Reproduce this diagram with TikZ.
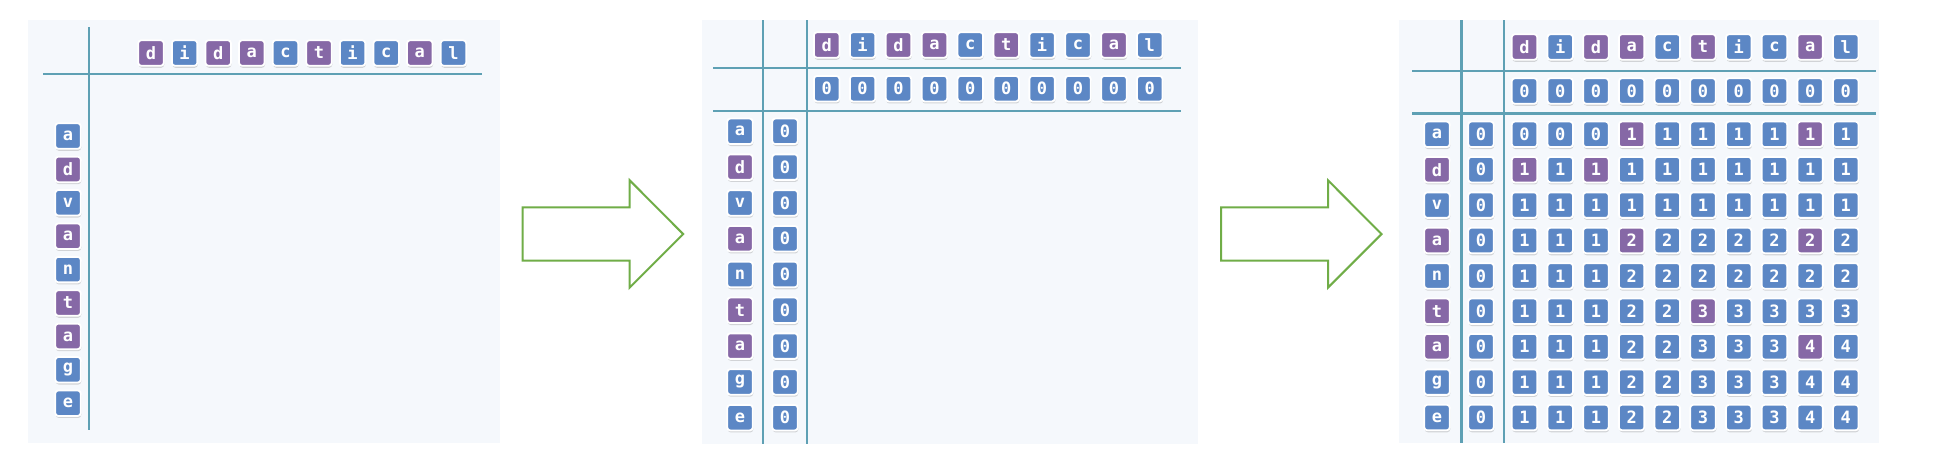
\documentclass[tikz,border=0pt]{standalone}
\usepackage{fontspec}
\setmonofont{DejaVu Sans Mono}
\usetikzlibrary{shadows}
\definecolor{blu}{RGB}{92,135,197}
\definecolor{pur}{RGB}{134,104,166}
\definecolor{gridteal}{RGB}{94,160,180}
\definecolor{panelbg}{RGB}{245,248,252}
\definecolor{arrowgreen}{RGB}{112,173,71}
\newcommand\topword{d/pur,i/blu,d/pur,a/pur,c/blu,t/pur,i/blu,c/blu,a/pur,l/blu}
\newcommand\sideword{a/blu,d/pur,v/blu,a/pur,n/blu,t/pur,a/pur,g/blu,e/blu}

\begin{document}
\begin{tikzpicture}[x=1pt, y=-1pt,
    tile/.style={draw=white, line width=1.8pt, rounded corners=3pt, minimum size=25.5pt,
        inner sep=0pt, text=white, font={\ttfamily\bfseries\fontsize{17}{17}\selectfont},
        drop shadow={opacity=0.3, shadow xshift=0.5pt, shadow yshift=-2pt}},
    rule/.style={gridteal, line width=2.4pt},
    bigarrow/.style={arrowgreen, line width=2pt}]
    \path[use as bounding box, fill=white] (0,0) rectangle (1936,474);

    \fill[panelbg] (28,20) rectangle (500,443);
    \draw[rule] (89,27) -- (89,430);
    \draw[rule] (43,74) -- (482,74);
    \foreach \ch/\cl [count=\i] in \topword
        \node[tile, fill=\cl] (top1-\i) at ({151+33.6*(\i-1)},53) {\ch};
    \foreach \ch/\cl [count=\j] in \sideword
        \node[tile, fill=\cl] (side1-\j) at (68,{136+33.4*(\j-1)}) {\ch};

    \foreach \ax in {522.7,1221}
        \draw[bigarrow] (\ax,207.3) -- ++(107,0) -- ++(0,-27) -- ++(53.5,53.8)
            -- ++(-53.5,53.5) -- ++(0,-27) -- ++(-107,0) -- cycle;

    \fill[panelbg] (702,20) rectangle (1198,444);
    \draw[rule] (763,20) -- (763,444);
    \draw[rule] (807,20) -- (807,444);
    \draw[rule] (713,68) -- (1181,68);
    \draw[rule] (713,111) -- (1181,111);
    \foreach \ch/\cl [count=\i] in \topword {
        \node[tile, fill=\cl] (top2-\i) at ({826.7+35.9*(\i-1)},45) {\ch};
        \node[tile, fill=blu] (zero2-\i) at ({826.7+35.9*(\i-1)},88.7) {0};
    }
    \foreach \ch/\cl [count=\j] in \sideword {
        \node[tile, fill=\cl] (side2-\j) at (740,{131.3+35.8*(\j-1)}) {\ch};
        \node[tile, fill=blu] (base2-\j) at (785,{131.3+35.8*(\j-1)}) {0};
    }

    \fill[panelbg] (1399,20) rectangle (1879,443);
    \draw[rule] (1461.5,20) -- (1461.5,443);
    \draw[rule] (1504,20) -- (1504,443);
    \draw[rule] (1412,71) -- (1876,71);
    \draw[rule] (1412,113.5) -- (1876,113.5);
    \foreach \ch/\cl [count=\i] in \topword {
        \node[tile, fill=\cl] (top3-\i) at ({1524.5+35.7*(\i-1)},47) {\ch};
        \node[tile, fill=blu] (zero3-\i) at ({1524.5+35.7*(\i-1)},91) {0};
    }
    \foreach \ch/\cl [count=\j] in \sideword {
        \node[tile, fill=\cl] (side3-\j) at (1437,{134.3+35.4*(\j-1)}) {\ch};
        \node[tile, fill=blu] (base3-\j) at (1481,{134.3+35.4*(\j-1)}) {0};
    }
    \foreach \j/\i in {1/4,1/9,2/1,2/3,4/4,4/9,6/6,7/9}
        {\expandafter\gdef\csname hot\j-\i\endcsname{}}
    \foreach \row [count=\j] in {{0,0,0,1,1,1,1,1,1,1},{1,1,1,1,1,1,1,1,1,1},
            {1,1,1,1,1,1,1,1,1,1},{1,1,1,2,2,2,2,2,2,2},{1,1,1,2,2,2,2,2,2,2},
            {1,1,1,2,2,3,3,3,3,3},{1,1,1,2,2,3,3,3,4,4},{1,1,1,2,2,3,3,3,4,4},
            {1,1,1,2,2,3,3,3,4,4}}
        \foreach \v [count=\i] in \row {
            \ifcsname hot\j-\i\endcsname\def\cl{pur}\else\def\cl{blu}\fi
            \node[tile, fill=\cl] (c\j-\i) at ({1524.5+35.7*(\i-1)},{134.3+35.4*(\j-1)}) {\v};
        }
\end{tikzpicture}
\end{document}
